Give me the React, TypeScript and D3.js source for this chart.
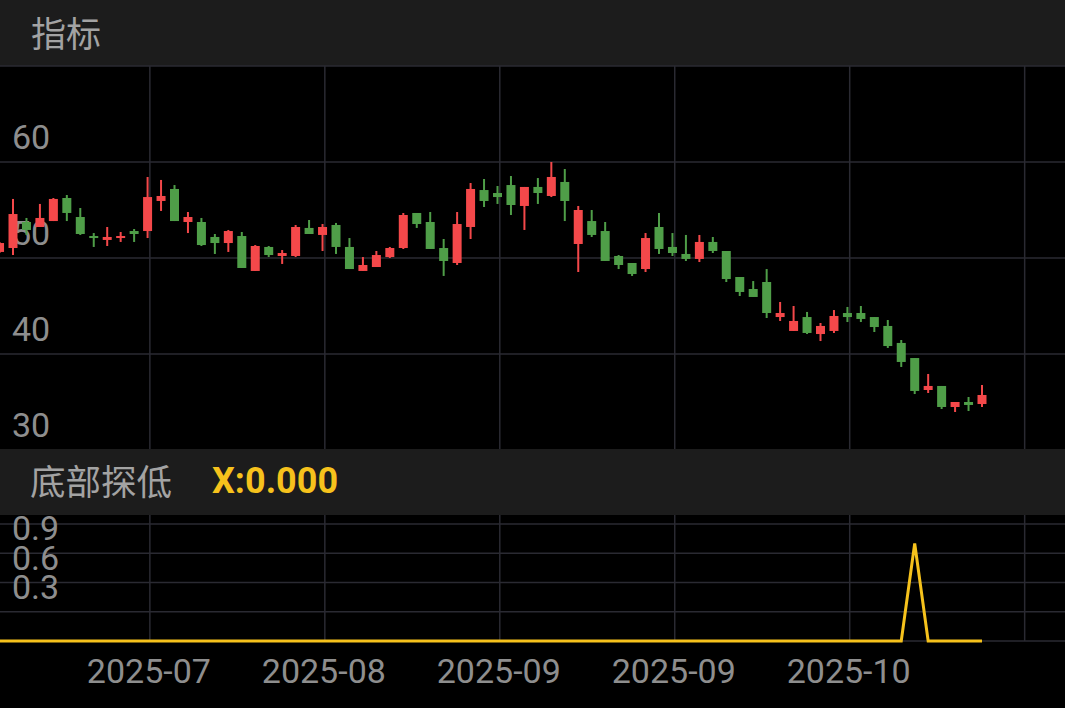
import React from "react";
import * as d3 from "d3";

const W = 1065;
const H = 708;

// OHLC per session (index order)
const opens = [50.63, 51.04, 53.75, 53.23, 53.85, 56.25, 54.27, 52.29, 51.88, 52.08, 52.81, 52.81, 55.94, 57.19, 53.75, 53.75, 52.19, 51.56, 52.29, 48.65, 51.15, 50.21, 50.21, 53.13, 52.4, 53.44, 51.15, 48.65, 49.06, 50.1, 51.04, 54.69, 53.75, 51.04, 49.48, 53.23, 57.08, 56.77, 57.6, 55.42, 57.4, 56.46, 57.92, 51.46, 53.85, 52.81, 50.21, 49.48, 48.85, 53.23, 51.15, 50.42, 49.9, 51.67, 50.73, 48.02, 46.77, 47.5, 43.85, 42.4, 43.85, 42.08, 42.4, 44.27, 44.27, 43.85, 42.92, 41.15, 39.58, 36.25, 36.67, 34.48, 35.0, 34.79];
const highs = [51.67, 56.15, 54.17, 55.63, 56.25, 56.56, 55.21, 52.6, 53.23, 52.71, 53.02, 58.44, 58.13, 57.6, 54.79, 54.17, 52.5, 52.92, 52.71, 51.35, 51.25, 50.83, 53.44, 53.96, 53.54, 53.65, 52.08, 50.1, 50.73, 51.15, 54.69, 54.69, 54.79, 51.98, 54.79, 57.81, 58.23, 57.5, 58.54, 57.4, 58.33, 60.0, 59.27, 55.42, 55.0, 53.75, 50.31, 49.48, 52.6, 54.69, 52.6, 52.4, 52.4, 52.19, 50.73, 48.02, 47.6, 48.85, 45.42, 45.0, 44.38, 43.23, 44.58, 44.9, 45.0, 43.85, 43.54, 41.46, 39.58, 37.92, 36.67, 35.0, 35.52, 36.77];
const lows = [50.52, 50.31, 52.4, 53.23, 53.85, 53.85, 52.4, 51.15, 51.25, 51.67, 51.67, 52.08, 54.9, 53.85, 52.6, 51.25, 50.42, 50.63, 48.96, 48.65, 50.1, 49.38, 50.1, 52.5, 50.73, 50.42, 48.85, 48.65, 49.06, 50.0, 50.94, 53.13, 50.94, 48.13, 49.27, 51.98, 55.31, 55.63, 54.48, 52.92, 55.63, 56.35, 53.85, 48.54, 52.19, 49.69, 48.85, 48.13, 48.54, 50.42, 50.21, 49.69, 49.58, 50.52, 47.5, 46.04, 45.94, 43.75, 43.44, 42.4, 42.08, 41.35, 42.19, 43.33, 43.33, 42.29, 40.63, 38.65, 35.83, 35.94, 34.27, 33.96, 34.06, 34.48];
const closes = [51.56, 54.58, 52.92, 54.17, 56.15, 54.69, 52.5, 52.08, 52.19, 52.29, 52.5, 56.35, 56.46, 53.85, 54.27, 51.35, 51.56, 52.81, 48.96, 51.25, 50.31, 50.52, 53.23, 52.5, 53.23, 51.15, 48.85, 49.27, 50.31, 51.04, 54.48, 53.54, 50.94, 49.69, 53.54, 57.19, 55.94, 56.35, 55.52, 57.4, 56.77, 58.44, 55.94, 55.0, 52.4, 49.69, 49.27, 48.33, 52.08, 50.94, 50.52, 49.9, 51.67, 50.73, 47.81, 46.46, 45.94, 44.27, 44.27, 43.44, 42.19, 42.92, 43.96, 43.85, 43.65, 42.81, 40.83, 39.17, 36.15, 36.67, 34.48, 35.0, 34.69, 35.73];

// 底部探低 indicator values
const signal = [0, 0, 0, 0, 0, 0, 0, 0, 0, 0, 0, 0, 0, 0, 0, 0, 0, 0, 0, 0, 0, 0, 0, 0, 0, 0, 0, 0, 0, 0, 0, 0, 0, 0, 0, 0, 0, 0, 0, 0, 0, 0, 0, 0, 0, 0, 0, 0, 0, 0, 0, 0, 0, 0, 0, 0, 0, 0, 0, 0, 0, 0, 0, 0, 0, 0, 0, 0, 1, 0, 0, 0, 0, 0];

const priceTicks = [60, 50, 40, 30];
const priceGrid = [70, 60, 50, 40];
const signalTicks = [0.9, 0.6, 0.3];
const signalGrid = [1.2, 0.9, 0.6, 0.3, 0];
const xTickIdx = [11.17, 24.17, 37.17, 50.17, 63.17, 76.17];
const xTickLabels = ["2025-07", "2025-08", "2025-09", "2025-09", "2025-10"];

const RED = "#f4484a";
const GREEN = "#4f9e48";
const GRID = "#2a2a32";
const HEADER = "#1c1c1c";
const TXT = "#8e8e8e";
const YELLOW = "#f6c21c";

export default function App() {
  const x = d3.scaleLinear().domain([0, 73]).range([-0.46, 982]);
  const y = d3.scaleLinear().domain([30, 70]).range([450, 66]);
  const ys = d3.scaleLinear().domain([0, 1.2]).range([641, 524]);

  const line = d3
    .line<number>()
    .x((_, i) => x(i))
    .y((d) => ys(d));

  const bodyW = 9;

  return (
    <svg
      width={W}
      height={H}
      style={{ position: "absolute", left: 0, top: 0, background: "#000" }}
    >
      <rect x={0} y={0} width={W} height={H} fill="#000" />
      {/* headers */}
      <rect x={0} y={0} width={W} height={66} fill={HEADER} />
      <rect x={0} y={449} width={W} height={66} fill={HEADER} />
      <text
        x={31}
        y={47}
        fontFamily="'Noto Sans CJK SC', sans-serif"
        fontSize={35}
        fill="#a3a3a3"
      >
        指标
      </text>
      <text
        x={30}
        y={495}
        fontFamily="'Noto Sans CJK SC', sans-serif"
        fontSize={35.5}
        fill="#a3a3a3"
      >
        底部探低
      </text>
      <text
        x={212}
        y={493}
        fontFamily="Roboto, sans-serif"
        fontWeight="bold"
        fontSize={36}
        fill={YELLOW}
      >
        X:0.000
      </text>

      {/* grid */}
      <g stroke={GRID} strokeWidth={1.5}>
        {priceGrid.map((v) => (
          <line key={"pg" + v} x1={0} x2={W} y1={y(v)} y2={y(v)} />
        ))}
        {xTickIdx.map((t) => (
          <line key={"vx" + t} x1={x(t)} x2={x(t)} y1={66} y2={449} />
        ))}
        {signalGrid.map((v) => (
          <line key={"sg" + v} x1={0} x2={W} y1={ys(v)} y2={ys(v)} />
        ))}
        {xTickIdx.map((t) => (
          <line key={"vs" + t} x1={x(t)} x2={x(t)} y1={515} y2={641} />
        ))}
      </g>

      {/* price labels */}
      {priceTicks.map((v) => (
        <text
          key={"pt" + v}
          x={12}
          y={y(v) - 13}
          fontFamily="Roboto, sans-serif"
          fontSize={34}
          fill={TXT}
        >
          {v}
        </text>
      ))}

      {/* candles */}
      <g>
        {opens.map((o, i) => {
          const c = closes[i];
          const up = c >= o;
          const col = up ? RED : GREEN;
          const cx = x(i);
          const top = y(Math.max(o, c));
          const bot = y(Math.min(o, c));
          return (
            <g key={"c" + i}>
              <line
                x1={cx}
                x2={cx}
                y1={y(highs[i])}
                y2={y(lows[i])}
                stroke={col}
                strokeWidth={2}
              />
              <rect
                x={cx - bodyW / 2}
                y={top}
                width={bodyW}
                height={Math.max(1.5, bot - top)}
                fill={col}
              />
            </g>
          );
        })}
      </g>

      {/* signal labels */}
      {signalTicks.map((v) => (
        <text
          key={"st" + v}
          x={12}
          y={ys(v) - 13}
          fontFamily="Roboto, sans-serif"
          fontSize={34}
          fill={TXT}
        >
          {v.toFixed(1)}
        </text>
      ))}

      <path
        d={line(signal) || ""}
        fill="none"
        stroke={YELLOW}
        strokeWidth={3}
      />

      {/* x labels */}
      {xTickLabels.map((l, i) => (
        <text
          key={"xl" + i}
          x={x(xTickIdx[i]) - 1}
          y={683}
          textAnchor="middle"
          fontFamily="Roboto, sans-serif"
          fontSize={34}
          fill={TXT}
        >
          {l}
        </text>
      ))}
    </svg>
  );
}
